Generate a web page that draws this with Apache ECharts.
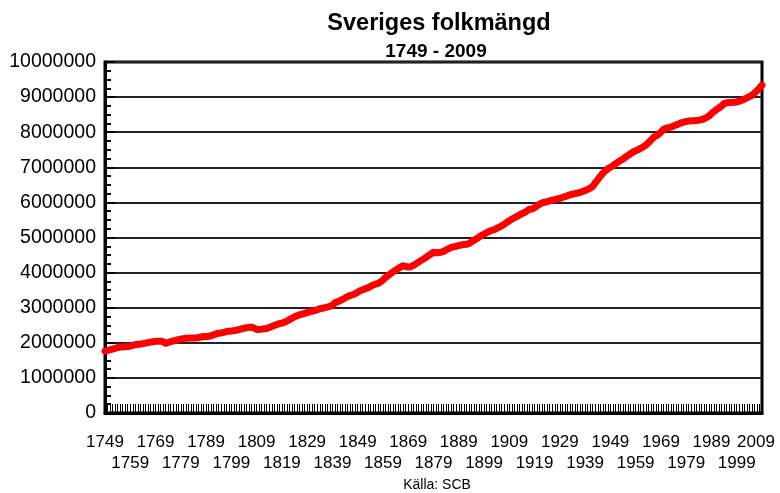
<!DOCTYPE html>
<html>
<head>
<meta charset="utf-8">
<script src="https://cdn.jsdelivr.net/npm/echarts@6/dist/echarts.min.js"></script>
<style>
  html, body { margin: 0; padding: 0; background: #fff; }
  #chart { width: 780px; height: 493px; }
</style>
</head>
<body>
<div id="chart"></div>
<script>
// Folkmängd 31 dec, 1749 - 2009 (en siffra per år)
var firstYear = 1749;
var population = [
  1764724, 1780678, 1802373, 1822239, 1843845, 1865851, 1878000, 1881000, 1888000, 1892000,
  1905000, 1925248, 1945000, 1960000, 1962000, 1975000, 1990000, 2005000, 2020000, 2030000,
  2041000, 2042574, 2048000, 2030000, 1986000, 2008000, 2035000, 2055000, 2070000, 2089000,
  2106000, 2118281, 2128000, 2133000, 2135000, 2140000, 2140000, 2150000, 2165000, 2178000,
  2175000, 2187732, 2200000, 2230000, 2255000, 2275000, 2281000, 2300000, 2320000, 2330000,
  2335000, 2347303, 2355000, 2375000, 2395000, 2415000, 2431000, 2440000, 2445000, 2420000,
  2380000, 2377851, 2390000, 2400000, 2410000, 2435000, 2465066, 2495000, 2520000, 2545000,
  2560000, 2584690, 2620000, 2660000, 2700000, 2740000, 2771252, 2800000, 2815000, 2840000,
  2860000, 2888082, 2900000, 2915000, 2940000, 2970000, 2983144, 3000000, 3020000, 3040000,
  3075000, 3138887, 3170000, 3200000, 3235000, 3275000, 3316536, 3345000, 3370000, 3400000,
  3440000, 3482541, 3510000, 3540000, 3565000, 3605000, 3641011, 3672000, 3688000, 3734000,
  3788000, 3859728, 3917000, 3966000, 4022000, 4070000, 4114141, 4161000, 4195681, 4173000,
  4158757, 4168525, 4204000, 4250000, 4297000, 4341000, 4383291, 4429000, 4484000, 4531000,
  4578901, 4565668, 4572245, 4579115, 4603595, 4644448, 4682769, 4717189, 4734901, 4748257,
  4774409, 4784981, 4802751, 4806865, 4824150, 4873183, 4919260, 4962568, 5009632, 5062918,
  5097402, 5136441, 5175228, 5200000, 5221291, 5260811, 5294885, 5337055, 5377713, 5429600,
  5476441, 5522403, 5561799, 5600000, 5638583, 5679607, 5712718, 5757566, 5805896, 5813850,
  5847037, 5904489, 5954316, 5986381, 6005749, 6020437, 6045237, 6064243, 6081023, 6097084,
  6113261, 6141571, 6162446, 6190364, 6211566, 6233090, 6250506, 6266888, 6284722, 6310048,
  6340604, 6371432, 6406474, 6454071, 6560000, 6650000, 6740000, 6830000, 6900000, 6960000,
  7000000, 7041829, 7098705, 7150606, 7192316, 7234664, 7290112, 7341122, 7389318, 7436066,
  7471345, 7497967, 7542028, 7581148, 7627507, 7695200, 7772506, 7843088, 7892774, 7931193,
  8004270, 8081229, 8115165, 8129129, 8144428, 8176691, 8208442, 8236179, 8267116, 8284437,
  8303010, 8317937, 8323033, 8327484, 8330573, 8342621, 8358139, 8381515, 8414083, 8458888,
  8527036, 8590630, 8644119, 8692013, 8745109, 8816381, 8837496, 8844499, 8847625, 8854322,
  8861426, 8882792, 8909128, 8940788, 8975670, 9011392, 9047752, 9113257, 9182927, 9256347,
  9340682
];
var years = population.map(function (v, i) { return String(firstYear + i); });
var yTicks = [0, 1000000, 2000000, 3000000, 4000000, 5000000, 6000000, 7000000, 8000000, 9000000, 10000000];

var font = "'Liberation Sans', Arial, sans-serif";
var labelStyle = { fontFamily: font, fontSize: 17, color: "#000", hideOverlap: false };

var chart = echarts.init(document.getElementById("chart"));
var option = {
  animation: false,
  backgroundColor: "#fff",
  title: [
    {
      text: "Sveriges folkmängd",
      left: 434,
      top: 7,
      textAlign: "center",
      textStyle: { fontFamily: font, fontSize: 23.5, fontWeight: "bold", color: "#000" },
    },
    {
      text: "1749 - 2009",
      left: 431,
      top: 37,
      textAlign: "center",
      textStyle: { fontFamily: font, fontSize: 19, fontWeight: "bold", color: "#000" },
    },
    {
      text: "Källa: SCB",
      left: 432,
      top: 473,
      textAlign: "center",
      textStyle: { fontFamily: font, fontSize: 14, fontWeight: "normal", color: "#000" },
    },
  ],
  grid: {
    left: 105,
    right: 18,
    top: 62,
    bottom: 80,
    show: true,
    borderColor: "#000",
    borderWidth: 3,
  },
  xAxis: [
    {
      // övre raden: 1749, 1769, ... 2009
      type: "category",
      data: years,
      boundaryGap: false,
      axisLine: { lineStyle: { color: "#000", width: 3 } },
      axisTick: {
        inside: true,
        interval: 0,
        length: 9,
        lineStyle: { color: "#000", width: 1 },
      },
      axisLabel: Object.assign({
        interval: function (i) { return i % 20 === 0; },
        showMinLabel: true,
        showMaxLabel: true,
        margin: 21,
        formatter: function (v, i) {
          return i === years.length - 1 ? "{last|" + v + "}" : v;
        },
        rich: { last: { fontFamily: font, fontSize: 17, color: "#000", padding: [0, 12, 0, 0] } },
      }, labelStyle),
      splitLine: { show: false },
    },
    {
      // nedre raden: 1759, 1779, ... 1999
      type: "category",
      data: years,
      position: "bottom",
      boundaryGap: false,
      axisLine: { show: false },
      axisTick: { show: false },
      axisLabel: Object.assign({
        interval: function (i) { return i % 20 === 10; },
        margin: 42,
      }, labelStyle),
      splitLine: { show: false },
    },
  ],
  yAxis: {
    type: "value",
    min: yTicks[0],
    max: yTicks[yTicks.length - 1],
    interval: 1000000,
    axisLine: { show: true, lineStyle: { color: "#000", width: 3 } },
    axisTick: { show: true, inside: true, length: 10, lineStyle: { color: "#000", width: 2 } },
    minorTick: { show: true, splitNumber: 4, length: 6, lineStyle: { color: "#000", width: 2 } },
    axisLabel: {
      margin: 9,
      fontFamily: font,
      fontSize: 19.5,
      color: "#000",
      formatter: function (v) { return String(v); },
    },
    splitLine: { show: true, lineStyle: { color: "#222", width: 2 } },
  },
  series: [
    {
      type: "line",
      data: population,
      showSymbol: false,
      symbol: "none",
      lineStyle: { color: "#ff0000", width: 7, join: "round", cap: "round" },
    },
  ],
};
chart.setOption(option);
</script>
</body>
</html>
